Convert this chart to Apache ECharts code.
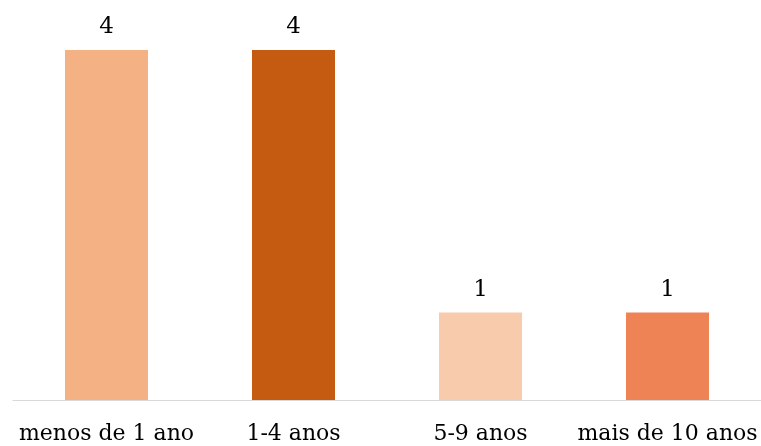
<!DOCTYPE html>
<html>
<head>
<meta charset="utf-8">
<script src="https://cdn.jsdelivr.net/npm/echarts@6/dist/echarts.min.js"></script>
<style>
  html, body { margin: 0; padding: 0; background: #fff; }
  #chart { width: 761px; height: 446px; }
</style>
</head>
<body>
<div id="chart"></div>
<script>
const categories = ['menos de 1 ano', '1-4 anos', '5-9 anos', 'mais de 10 anos']
const values = [4, 4, 1, 1]
const barColors = ['#F4B183', '#C55A11', '#F8CBAD', '#EE8356']

const font = 'DejaVu Serif'
const myChart = echarts.init(document.getElementById('chart'))
myChart.setOption({
  animation: false,
  grid: { left: 13, right: -2, top: 50, bottom: 46 },
  xAxis: {
    type: 'category',
    data: categories,
    axisTick: { show: false },
    axisLine: { lineStyle: { color: '#d9d9d9', width: 1 } },
    axisLabel: {
      interval: 0,
      hideOverlap: false,
      margin: 23,
      color: '#000',
      fontFamily: font,
      fontSize: 22
    }
  },
  yAxis: {
    type: 'value',
    min: 0,
    max: 4,
    show: false,
    splitLine: { show: false }
  },
  series: [{
    type: 'bar',
    barWidth: 83,
    data: values.map((v, i) => ({ value: v, itemStyle: { color: barColors[i] } })),
    label: {
      show: true,
      position: 'top',
      distance: 11,
      color: '#000',
      fontFamily: font,
      fontSize: 23
    }
  }]
})
</script>
</body>
</html>
